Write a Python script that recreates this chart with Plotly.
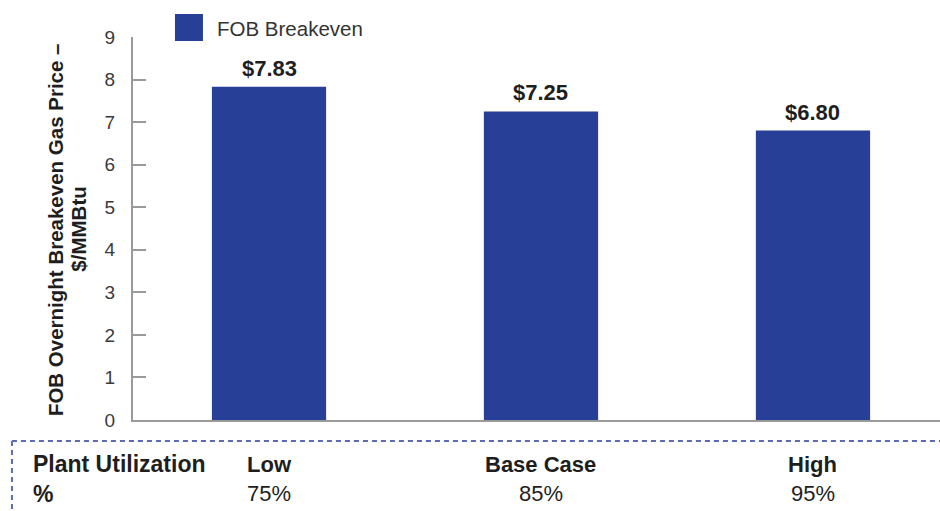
"""
plot.py
FOB overnight breakeven gas price by plant utilization case.
"""

import plotly.graph_objects as go

BLUE = "#283F98"
INK = "#1E1E1E"
GREY = "#9A9A9A"
DASH = "#5C6BB5"
FONT = "Liberation Sans, Arial, sans-serif"

cases = ["Low", "Base Case", "High"]
utilization = ["75%", "85%", "95%"]
breakeven = [7.83, 7.25, 6.80]
price_labels = ["$7.83", "$7.25", "$6.80"]
y_ticks = [0, 1, 2, 3, 4, 5, 6, 7, 8, 9]

fig = go.Figure(
    go.Bar(
        x=cases,
        y=breakeven,
        width=0.42,
        marker=dict(color=BLUE, line=dict(width=0)),
        name="FOB Breakeven",
        showlegend=False,
        hoverinfo="skip",
    )
)

annotations = []
# value labels above the bars
for c, v, lab in zip(cases, breakeven, price_labels):
    annotations.append(dict(
        x=c, y=v, xref="x", yref="y", text=f"<b>{lab}</b>", showarrow=False,
        yanchor="bottom", yshift=4, font=dict(size=22, color=INK, family=FONT),
    ))
# utilization table under the axis
for c, u in zip(cases, utilization):
    annotations.append(dict(
        x=c, y=-0.115, xref="x", yref="paper", text=f"<b>{c}</b>", showarrow=False,
        yanchor="middle", font=dict(size=22, color=INK, family=FONT),
    ))
    annotations.append(dict(
        x=c, y=-0.193, xref="x", yref="paper", text=u, showarrow=False,
        yanchor="middle", font=dict(size=22, color=INK, family=FONT),
    ))
annotations += [
    dict(x=-0.127, y=-0.115, xref="paper", yref="paper", text="<b>Plant Utilization</b>",
         showarrow=False, xanchor="left", yanchor="middle",
         font=dict(size=23, color=INK, family=FONT)),
    dict(x=-0.127, y=-0.193, xref="paper", yref="paper", text="<b>%</b>",
         showarrow=False, xanchor="left", yanchor="middle",
         font=dict(size=23, color=INK, family=FONT)),
    # y axis title, two lines placed separately
    dict(x=-0.0961, y=0.497, xref="paper", yref="paper", textangle=-90,
         text="<b>FOB Overnight Breakeven Gas Price –</b>",
         showarrow=False, xanchor="center", yanchor="middle",
         font=dict(size=20.5, color=INK, family=FONT)),
    dict(x=-0.0669, y=0.497, xref="paper", yref="paper", textangle=-90,
         text="<b>$/MMBtu</b>",
         showarrow=False, xanchor="center", yanchor="middle",
         font=dict(size=20.5, color=INK, family=FONT)),
    # legend label
    dict(x=0.1016, y=1.021, xref="paper", yref="paper", text="FOB Breakeven",
         showarrow=False, xanchor="left", yanchor="middle",
         font=dict(size=20.5, color="#333333", family=FONT)),
]

shapes = [
    # legend swatch
    dict(type="rect", xref="paper", yref="paper", x0=0.052, x1=0.0867, y0=0.9896, y1=1.060,
         fillcolor=BLUE, line=dict(width=0)),
    # dashed table frame
    dict(type="line", xref="paper", yref="paper", x0=-0.15, x1=1.0, y0=-0.0548, y1=-0.0548,
         line=dict(color=DASH, width=2, dash="5px,4px")),
    dict(type="line", xref="paper", yref="paper", x0=-0.15, x1=-0.15, y0=-0.0548, y1=-0.24,
         line=dict(color=DASH, width=2, dash="5px,4px")),
]

fig.update_layout(
    width=940,
    height=511,
    margin=dict(l=133, r=0, t=37, b=91),
    paper_bgcolor="white",
    plot_bgcolor="white",
    font=dict(family=FONT, color="#333333"),
    showlegend=False,
    annotations=annotations,
    shapes=shapes,
    xaxis=dict(
        range=[-0.5, 2.467], showticklabels=False, ticks="", showgrid=False,
        zeroline=False, showline=True, linecolor=GREY, linewidth=2, fixedrange=True,
    ),
    yaxis=dict(
        range=[0, 9], tickvals=y_ticks, ticks="inside", ticklen=13, tickwidth=2,
        tickcolor=GREY, showgrid=False, zeroline=False, showline=True,
        linecolor=GREY, linewidth=2, tickfont=dict(size=19, color="#3A3A3A", family=FONT),
        ticklabelstandoff=12, fixedrange=True,
    ),
)

fig.write_html(
    "out.html",
    config={"displayModeBar": False},
    post_script="document.body.style.margin='0';",
)
